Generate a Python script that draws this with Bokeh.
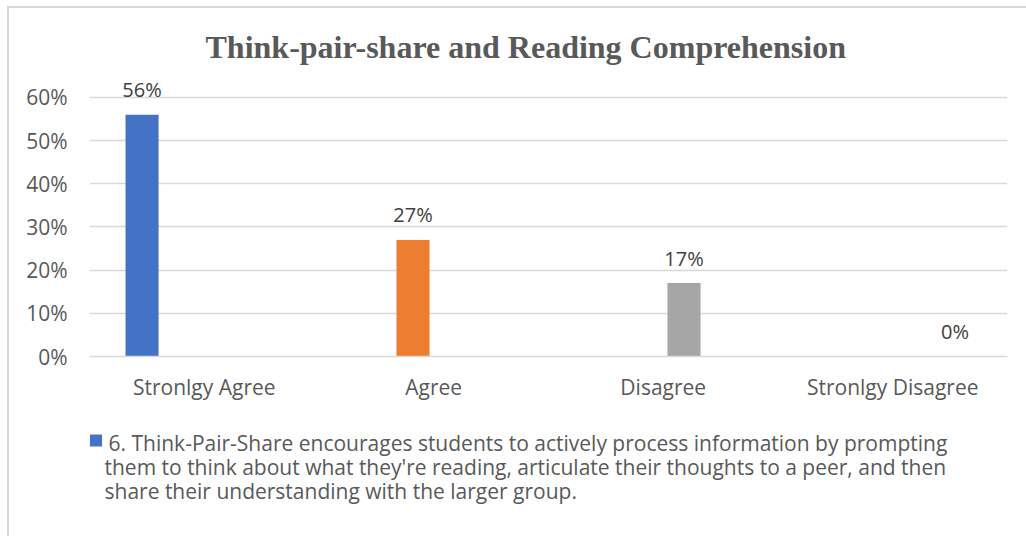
from bokeh.plotting import figure
from bokeh.layouts import column
from bokeh.models import (FactorRange, Range1d, ColumnDataSource, CDSView, IndexFilter,
                          Label, NumeralTickFormatter)
from bokeh.core.properties import value
from bokeh.transform import dodge
from bokeh.embed import file_html
from bokeh.resources import INLINE

# ---- data ----
categories = ["Stronlgy Agree", "Agree", "Disagree", "Stronlgy Disagree"]
values = [0.56, 0.27, 0.17, 0.00]
value_labels = ["56%", "27%", "17%", "0%"]
colors = ["#4472C4", "#ED7D31", "#A5A5A5", "#FFC000"]
y_ticks = [0.0, 0.1, 0.2, 0.3, 0.4, 0.5, 0.6]
title_text = "Think-pair-share and Reading Comprehension"
legend_lines = [
    "6. Think-Pair-Share encourages students to actively process information by prompting",
    "them to think about what they're reading, articulate their thoughts to a peer, and then",
    "share their understanding with the larger group.",
]

# ---- layout (pixels, window coordinates) ----
OX, OY = 9, 8                       # canvas origin inside the chart border
W = 1026 - OX
SPLIT = 410                         # window y where the legend strip begins
H1 = SPLIT - OY
H2 = 536 - SPLIT
YTOP = 0.66
px_per_unit = (356 - 97) / 0.6
FL_WIN, FR_WIN = 89, 1007
FL, FR, FB = FL_WIN - OX, FR_WIN - OX, 356 - OY
FT = int(round(FB - YTOP * px_per_unit))
offsets = [-0.271, -0.0904, 0.0904, 0.271]
bar_w = 0.144

TXT = "#595959"
FONT = "Open Sans"
FS = "21px"

# ---------------- main chart ----------------
p = figure(width=W, height=H1, x_range=FactorRange(*categories), y_range=Range1d(0, YTOP),
           output_backend="svg", toolbar_location=None,
           min_border_left=FL, min_border_right=W - FR, min_border_top=FT,
           min_border_bottom=H1 - FB)
p.outline_line_color = None

src = ColumnDataSource(dict(cat=categories, val=values, lab=value_labels, col=colors))

for i in range(len(categories)):
    p.vbar(x=dodge("cat", offsets[i], range=p.x_range), top="val", width=bar_w,
           source=src, view=CDSView(filter=IndexFilter([i])),
           fill_color=colors[i], line_color=None)
    p.add_layout(Label(x=i + 0.5 + offsets[i], y=values[i], text=value_labels[i],
                       text_align="center", text_baseline="alphabetic", y_offset=25,
                       text_font=FONT, text_font_size="20px", text_color="#404040"))

p.yaxis.ticker = y_ticks
p.yaxis.formatter = NumeralTickFormatter(format="0%")
p.yaxis.axis_line_color = None
p.yaxis.major_tick_line_color = None
p.yaxis.minor_tick_line_color = None
p.yaxis.major_tick_out = 0
p.yaxis.major_label_standoff = 22
p.yaxis.major_label_text_font = FONT
p.yaxis.major_label_text_font_size = FS
p.yaxis.major_label_text_color = TXT

p.xaxis.axis_line_color = "#d9d9d9"
p.xaxis.axis_line_width = 1.5
p.xaxis.major_tick_line_color = None
p.xaxis.major_tick_out = 0
p.xaxis.major_label_standoff = 16
p.xaxis.major_label_text_font = FONT
p.xaxis.major_label_text_font_size = FS
p.xaxis.major_label_text_color = TXT

p.xgrid.grid_line_color = None
p.ygrid.grid_line_color = "#d9d9d9"
p.ygrid.grid_line_width = 1.5

p.title.text = title_text
p.title.align = "left"
p.title.offset = 205 - 89
p.title.standoff = 13
p.title.text_font = "Liberation Serif"
p.title.text_font_style = "bold"
p.title.text_font_size = "32px"
p.title.text_color = TXT

# ---------------- legend strip (window pixel coordinates, y downward) ----------------
# the column layout aligns this strip's frame with the chart's frame (x 89..1007)
q = figure(width=W, height=H2, x_range=Range1d(FL_WIN, FR_WIN), y_range=Range1d(536, SPLIT),
           output_backend="svg", toolbar_location=None,
           x_axis_location=None, y_axis_location=None,
           min_border=0, min_border_left=0, min_border_right=0,
           min_border_top=0, min_border_bottom=0)
q.outline_line_color = None
q.grid.visible = False

# legend key for the series
q.scatter(x=[95.5], y=[440], marker="square", size=12,
          fill_color=colors[0], line_color=None)

leg_src = ColumnDataSource(dict(
    x=[108, 104, 104],
    y=[442, 466, 490],
    t=legend_lines,
))
q.text(x="x", y="y", text="t", source=leg_src, text_align="left",
       text_baseline="alphabetic", text_font=value(FONT), text_font_size=FS,
       text_color=TXT)

layout = column(p, q, spacing=0,
                styles={"margin-left": "7px", "margin-top": "6px",
                        "border-left": "2px solid #d9d9d9",
                        "border-top": "2px solid #d9d9d9"})

open("out.html", "w").write(file_html(layout, INLINE))
